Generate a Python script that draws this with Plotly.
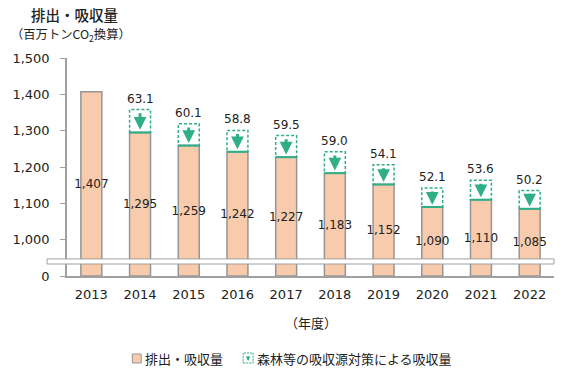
import plotly.graph_objects as go

years = [2013, 2014, 2015, 2016, 2017, 2018, 2019, 2020, 2021, 2022]
emissions = [1407, 1295, 1259, 1242, 1227, 1183, 1152, 1090, 1110, 1085]
absorption = [None, 63.1, 60.1, 58.8, 59.5, 59.0, 54.1, 52.1, 53.6, 50.2]
ytick_vals = [900, 1000, 1100, 1200, 1300, 1400, 1500]
ytick_text = ["0", "1,000", "1,100", "1,200", "1,300", "1,400", "1,500"]
legend_labels = ["排出・吸収量", "森林等の吸収源対策による吸収量"]

AXIS_BASE = 900  # position of "0" on the broken axis
BAR_W = 0.43
PEACH = "#F8CBAD"
BAR_LINE = "#959595"
GREEN = "#2fae88"
NUMFONT = "DejaVu Sans"
JPFONT = "Noto Sans CJK JP"

fig = go.Figure()
fig.add_trace(go.Bar(
    x=years,
    y=[v - AXIS_BASE for v in emissions],
    base=AXIS_BASE,
    width=BAR_W,
    marker=dict(color=PEACH, line=dict(color=BAR_LINE, width=1.5)),
    text=[f"{v:,}" for v in emissions],
    textposition="inside",
    insidetextanchor="middle",
    textangle=0,
    constraintext="none",
    textfont=dict(family=NUMFONT, size=12, color="#222"),
    showlegend=False,
))

shapes = []
annotations = []
for yr, e, a in zip(years, emissions, absorption):
    if a is None:
        continue
    shapes.append(dict(type="rect", xref="x", yref="y",
                       x0=yr - BAR_W / 2, x1=yr + BAR_W / 2, y0=e, y1=e + a,
                       line=dict(color=GREEN, width=1.5, dash="3px,2px"),
                       fillcolor="rgba(0,0,0,0)", layer="above"))
    shapes.append(dict(type="line", xref="x", yref="y",
                       x0=yr - BAR_W / 2, x1=yr + BAR_W / 2, y0=e, y1=e,
                       line=dict(color=GREEN, width=2), layer="above"))
    annotations.append(dict(x=yr, y=e + a * 0.12, ax=yr, ay=e + a * 0.9,
                            xref="x", yref="y", axref="x", ayref="y",
                            showarrow=True, arrowhead=2, arrowsize=0.85,
                            arrowwidth=3, arrowcolor=GREEN, text=""))
    annotations.append(dict(x=yr, y=e + a, xref="x", yref="y",
                            text=f"{a:.1f}", showarrow=False,
                            yanchor="bottom", yshift=2,
                            font=dict(family=NUMFONT, size=12, color="#222")))

# axis break band
shapes.append(dict(type="rect", xref="paper", yref="y",
                   x0=-0.041, x1=1.0, y0=933, y1=947,
                   fillcolor="white", line=dict(color="#a0a0a0", width=1),
                   layer="above"))

# manual legend (paper coordinates; plot area spans px 62..554 x 58..276)
PW, PH = 492.0, 218.0
def px(x):
    return (x - 62) / PW
def py(y):
    return (276 - y) / PH

shapes.append(dict(type="rect", xref="paper", yref="paper",
                   x0=px(128), x1=px(137), y0=py(363), y1=py(354),
                   fillcolor=PEACH, line=dict(color=BAR_LINE, width=1)))
shapes.append(dict(type="rect", xref="paper", yref="paper",
                   x0=px(240), x1=px(250), y0=py(363), y1=py(353),
                   fillcolor="white", line=dict(color=GREEN, width=1, dash="2px,1px")))
annotations.append(dict(x=px(245), y=py(361), ax=0, ay=-6,
                        xref="paper", yref="paper", axref="pixel", ayref="pixel",
                        showarrow=True, arrowhead=2, arrowsize=0.6,
                        arrowwidth=1.5, arrowcolor=GREEN, text=""))
annotations.append(dict(text=legend_labels[0], xref="paper", yref="paper",
                        x=px(139), y=py(358), xanchor="left", yanchor="middle",
                        showarrow=False,
                        font=dict(family=JPFONT, size=13, color="#222")))
annotations.append(dict(text=legend_labels[1], xref="paper", yref="paper",
                        x=px(252), y=py(358), xanchor="left", yanchor="middle",
                        showarrow=False,
                        font=dict(family=JPFONT, size=13, color="#222")))

annotations += [
    dict(text="排出・吸収量", xref="paper", yref="paper", x=px(24), y=py(14),
         xanchor="left", yanchor="middle", showarrow=False,
         font=dict(family=JPFONT, size=14.5, color="#222", weight=500)),
    dict(text="（百万トンCO<sub>2</sub>換算）", xref="paper", yref="paper",
         x=px(3), y=py(34), xanchor="left", yanchor="middle", showarrow=False,
         font=dict(family=JPFONT, size=12.3, color="#222")),
    dict(text="（年度）", xref="paper", yref="paper", x=px(308), y=py(322),
         xanchor="center", yanchor="middle", showarrow=False,
         font=dict(family=JPFONT, size=13, color="#222")),
]

fig.update_layout(
    width=567, height=380,
    margin=dict(l=62, r=13, t=58, b=104),
    paper_bgcolor="white", plot_bgcolor="white",
    shapes=shapes, annotations=annotations,
    showlegend=False,
    xaxis=dict(range=[2012.5, 2022.5], tickvals=years,
               ticktext=[str(y) for y in years], showgrid=False,
               showline=True, linecolor="#a0a0a0", linewidth=1.5,
               ticks="", ticklabelstandoff=6,
               tickfont=dict(family=NUMFONT, size=13, color="#222"),
               zeroline=False, fixedrange=True),
    yaxis=dict(range=[AXIS_BASE, 1500], tickvals=ytick_vals, ticktext=ytick_text,
               showgrid=False, showline=True, linecolor="#a0a0a0", linewidth=1.5,
               ticks="outside", ticklen=5, tickcolor="#a0a0a0", tickwidth=1,
               ticklabelstandoff=8,
               tickfont=dict(family=NUMFONT, size=13, color="#222"),
               zeroline=False, fixedrange=True),
    bargap=0.5,
)

# remove the default page margin so the figure sits at the window's top-left
fig.write_html("out.html",
               config={"displayModeBar": False},
               post_script="document.body.style.margin='0';"
                           "document.body.style.overflow='hidden';")
